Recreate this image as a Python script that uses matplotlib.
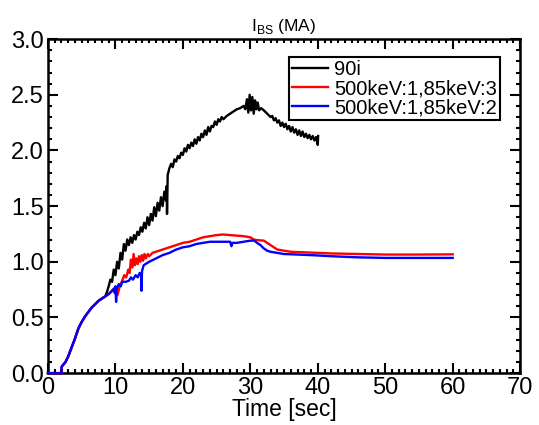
import numpy as np
import matplotlib
matplotlib.use("Agg")
import matplotlib.pyplot as plt
from matplotlib.ticker import MultipleLocator

plt.rcParams['font.family'] = ['Liberation Sans', 'DejaVu Sans']

# shared start-up ramp (all three runs overlap here)
ramp_t = [0.0, 2.0, 2.05, 2.6, 3.0, 3.5, 4.0, 4.5, 5.0, 5.5, 6.0, 6.5, 7.0, 7.5, 8.0, 8.5]
ramp_i = [0.0, 0.0, 0.06, 0.10, 0.15, 0.23, 0.31, 0.40, 0.46, 0.51, 0.55, 0.59, 0.62, 0.65, 0.67, 0.69]

# 90i
black_t = [8.75, 9.0, 9.25, 9.5, 9.75, 10.0, 10.25, 10.5, 10.75, 11.0, 11.25, 11.5, 11.75,
           12.0, 12.25, 12.5, 12.75, 13.0, 13.25, 13.5, 13.75, 14.0, 14.25, 14.5, 14.75,
           15.0, 15.25, 15.5, 15.75, 16.0, 16.25, 16.5, 16.75, 17.0, 17.25, 17.5, 17.6,
           17.65, 17.75, 18.0, 18.25, 18.5, 18.75, 19.0, 19.25, 19.5, 19.75, 20.0, 20.25,
           20.5, 20.75, 21.0, 21.25, 21.5, 21.75, 22.0, 22.25, 22.5, 22.75, 23.0, 23.25,
           23.5, 23.75, 24.0, 24.25, 24.5, 24.75, 25.0, 25.25, 25.5, 25.75, 26.0, 26.5,
           27.0, 27.5, 28.0, 28.5, 29.0, 29.25, 29.5, 29.7, 29.9, 30.1, 30.3, 30.5, 30.7,
           30.9, 31.1, 31.3, 31.6, 32.0, 32.5, 33.0, 33.25, 33.5, 33.75, 34.0, 34.25, 34.5,
           34.75, 35.0, 35.25, 35.5, 35.75, 36.0, 36.25, 36.5, 36.75, 37.0, 37.25, 37.5,
           37.75, 38.0, 38.25, 38.5, 38.75, 39.0, 39.25, 39.5, 39.75, 40.0, 40.05]
black_i = [0.73, 0.78, 0.84, 0.82, 0.93, 0.88, 1.00, 0.94, 1.08, 1.02, 1.16, 1.10, 1.20,
           1.15, 1.22, 1.17, 1.24, 1.20, 1.27, 1.24, 1.31, 1.27, 1.35, 1.30, 1.40,
           1.33, 1.43, 1.37, 1.49, 1.41, 1.53, 1.46, 1.58, 1.50, 1.63, 1.55, 1.68,
           1.43, 1.78, 1.84, 1.88, 1.85, 1.92, 1.90, 1.95, 1.93, 1.98, 1.96, 2.02,
           1.99, 2.05, 2.02, 2.07, 2.04, 2.10, 2.06, 2.12, 2.09, 2.15, 2.12, 2.18,
           2.14, 2.21, 2.17, 2.22, 2.21, 2.26, 2.23, 2.28, 2.26, 2.30, 2.28, 2.31,
           2.33, 2.35, 2.37, 2.38, 2.40, 2.37, 2.46, 2.34, 2.50, 2.36, 2.48, 2.33, 2.45,
           2.37, 2.43, 2.36, 2.38, 2.36, 2.33, 2.30, 2.31, 2.27, 2.29, 2.25, 2.27, 2.22,
           2.25, 2.21, 2.24, 2.19, 2.22, 2.17, 2.21, 2.16, 2.19, 2.14, 2.18, 2.13,
           2.17, 2.12, 2.15, 2.11, 2.14, 2.10, 2.13, 2.09, 2.12, 2.05, 2.13]

# 500keV:1,85keV:3
red_t = [8.75, 9.0, 9.5, 9.8, 10.0, 10.3, 10.6, 11.0, 11.3, 11.6, 11.9, 12.1, 12.3, 12.5,
         12.7, 12.9, 13.1, 13.3, 13.5, 13.7, 13.9, 14.1, 14.3, 14.5, 14.8, 15.0, 15.5,
         16.0, 17.0, 18.0, 19.0, 20.0, 21.0, 22.0, 23.0, 24.0, 25.0, 26.0, 27.0, 28.0,
         29.0, 30.0, 30.5, 31.0, 32.0, 32.5, 33.0, 33.5, 34.0, 35.0, 36.0, 38.0, 40.0,
         42.0, 46.0, 50.0, 55.0, 60.0]
red_i = [0.70, 0.71, 0.74, 0.76, 0.72, 0.70, 0.77, 0.83, 0.88, 0.86, 0.93, 0.90, 1.02, 0.95,
         1.07, 0.97, 1.03, 0.98, 1.05, 1.00, 1.06, 1.01, 1.07, 1.03, 1.07, 1.05, 1.08,
         1.09, 1.11, 1.13, 1.15, 1.17, 1.18, 1.20, 1.22, 1.23, 1.24, 1.245, 1.24, 1.235,
         1.23, 1.22, 1.20, 1.195, 1.19, 1.17, 1.15, 1.13, 1.11, 1.10, 1.09, 1.085, 1.08,
         1.075, 1.07, 1.065, 1.065, 1.067]

# 500keV:1,85keV:2
blue_t = [8.75, 9.0, 9.5, 9.8, 9.9, 10.0, 10.1, 10.2, 10.5, 10.8, 11.0, 11.5, 12.0, 12.3,
          12.6, 13.0, 13.3, 13.6, 13.8, 13.85, 13.95, 14.2, 15.0, 16.0, 17.0, 18.0, 19.0,
          20.0, 21.0, 22.0, 23.0, 24.0, 25.0, 26.0, 27.0, 27.2, 27.35, 28.0, 29.0, 30.0,
          30.6, 31.0, 31.5, 32.0, 32.5, 33.0, 34.0, 35.0, 37.0, 39.0, 42.0, 46.0, 50.0,
          55.0, 60.0]
blue_i = [0.70, 0.71, 0.74, 0.76, 0.72, 0.78, 0.64, 0.76, 0.80, 0.78, 0.82, 0.82, 0.83, 0.86,
          0.84, 0.88, 0.86, 0.90, 0.88, 0.74, 0.92, 0.97, 1.00, 1.03, 1.06, 1.08, 1.11,
          1.13, 1.14, 1.16, 1.17, 1.18, 1.18, 1.18, 1.18, 1.14, 1.17, 1.17, 1.18, 1.19,
          1.19, 1.17, 1.15, 1.12, 1.10, 1.09, 1.08, 1.07, 1.065, 1.06, 1.05, 1.04, 1.035,
          1.035, 1.035]

labels = ['90i', '500keV:1,85keV:3', '500keV:1,85keV:2']

fig = plt.figure(figsize=(5.39, 4.25), dpi=100)
ax = fig.add_axes([0.089, 0.122, 0.876, 0.786])

ax.plot(ramp_t + black_t, ramp_i + black_i, color='black', lw=1.7, label=labels[0],
        clip_on=False, zorder=3)
ax.plot(ramp_t + red_t, ramp_i + red_i, color='red', lw=1.7, label=labels[1],
        clip_on=False, zorder=3)
ax.plot(ramp_t + blue_t, ramp_i + blue_i, color='blue', lw=1.7, label=labels[2],
        clip_on=False, zorder=3)

ax.set_xlim(0, 70)
ax.set_ylim(0, 3.0)
ax.xaxis.set_major_locator(MultipleLocator(10))
ax.xaxis.set_minor_locator(MultipleLocator(1))
ax.yaxis.set_major_locator(MultipleLocator(0.5))
ax.yaxis.set_minor_locator(MultipleLocator(0.1))
ax.yaxis.set_major_formatter(plt.FormatStrFormatter('%.1f'))
ax.tick_params(which='both', direction='in', top=True, right=True, width=1.5)
ax.tick_params(which='major', length=7, labelsize=17, pad=3)
ax.tick_params(which='minor', length=3)
for s in ax.spines.values():
    s.set_linewidth(1.8)

ax.set_xlabel('Time [sec]', fontsize=16.5, labelpad=-1)
ax.set_title('I$_{\\mathregular{BS}}$ (MA)', fontsize=12.5, pad=6)

leg = ax.legend(loc='upper right', bbox_to_anchor=(0.958, 0.946), fontsize=14.5,
                frameon=True, fancybox=False, edgecolor='black', framealpha=1,
                handlelength=1.8, handletextpad=0.3, labelspacing=0.0,
                borderpad=0.15, borderaxespad=0)
leg.get_frame().set_linewidth(1.5)

fig.savefig('out.png', dpi=100)
